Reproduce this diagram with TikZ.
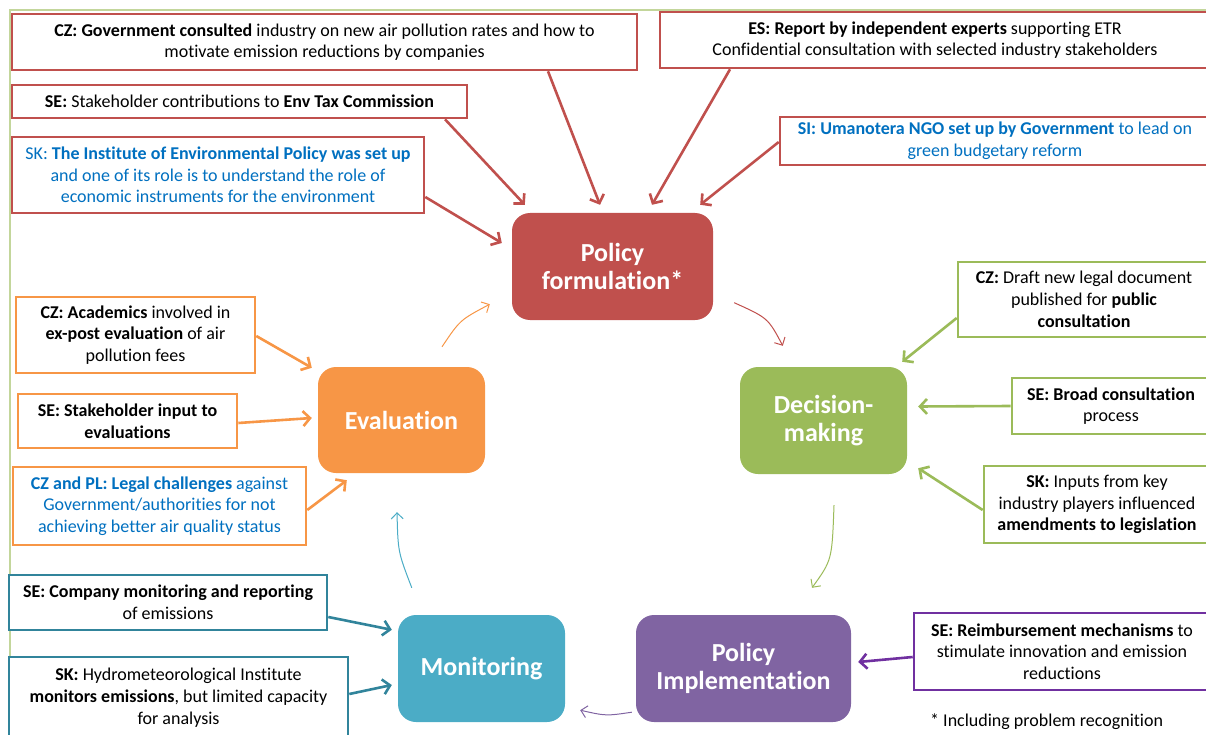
\documentclass[tikz,border=0pt]{standalone}
\usepackage{fontspec}
\setmainfont{Carlito}[Ligatures=CommonOff]
\usetikzlibrary{arrows.meta,calc}
\definecolor{polred}{HTML}{C0504D}
\definecolor{decgreen}{HTML}{9BBB59}
\definecolor{evorange}{HTML}{F79646}
\definecolor{monteal}{HTML}{4BACC6}
\definecolor{monedge}{HTML}{31849B}
\definecolor{implpurple}{HTML}{8064A2}
\definecolor{impledge}{HTML}{7030A0}
\definecolor{noteblue}{HTML}{0070C0}
\definecolor{framegreen}{HTML}{C3D69B}
\begin{document}
\begin{tikzpicture}[x=1pt,y=-1pt,
  note/.style={draw, line width=2.6pt, fill=white, align=center, inner sep=0pt,
    font=\fontsize{18}{21.7}\selectfont, text=black},
  stage/.style={rounded corners=18pt, align=center, inner sep=0pt, text=white,
    font=\fontsize{26}{28}\selectfont\bfseries},
  feed/.style={line width=2.6pt, -{Straight Barb[length=7pt,width=15pt]}},
  cyc/.style={line width=1pt, -{Straight Barb[length=6pt,width=12pt]}}]
\useasboundingbox (0,0) rectangle (1206,735);

% outer frame
\draw[framegreen, line width=1.6pt] (10,736) -- (10,10) -- (1210,10);

% policy cycle stages
\node[stage, fill=polred, minimum width=201pt, minimum height=107pt] (pf) at (612.5,266.5) {Policy\\formulation*};
\node[stage, fill=decgreen, minimum width=167pt, minimum height=107pt] (dm) at (823.5,420.5) {Decision-\\making};
\node[stage, fill=implpurple, minimum width=215pt, minimum height=107pt] (pi) at (743.5,668.5) {Policy\\Implementation};
\node[stage, fill=monteal, minimum width=167pt, minimum height=107pt] (mo) at (481.5,668.5) {Monitoring};
\node[stage, fill=evorange, minimum width=167pt, minimum height=106pt] (ev) at (401.5,420) {Evaluation};

% policy formulation inputs
\node[note, draw=polred, minimum width=625pt, minimum height=56pt] (rCZ) at (324.5,42)
  {\textbf{CZ: Government consulted} industry on new air pollution rates and how to\\motivate emission reductions by companies};
\node[note, draw=polred, minimum width=455pt, minimum height=33pt] (rSE) at (239.5,101.5)
  {\textbf{SE:} Stakeholder contributions to \textbf{Env Tax Commission}};
\node[note, draw=polred, text=noteblue, minimum width=412pt, minimum height=76pt] (rSK) at (218,175)
  {SK: \textbf{The Institute of Environmental Policy was set up}\\and one of its role is to understand the role of\\economic instruments for the environment};
\node[note, draw=polred, minimum width=550pt, minimum height=56pt] (rES) at (935,40)
  {\textbf{ES: Report by independent experts} supporting ETR\\Confidential consultation with selected industry stakeholders};
\node[note, draw=polred, text=noteblue, minimum width=430pt, minimum height=48pt] (rSI) at (995,141)
  {\textbf{SI: Umanotera NGO set up by Government} to lead on\\green budgetary reform};

% decision-making inputs
\node[note, draw=decgreen, minimum width=252pt, minimum height=75pt] (gCZ) at (1084,299.5)
  {\textbf{CZ:} Draft new legal document\\published for \textbf{public}\\\textbf{consultation}};
\node[note, draw=decgreen, minimum width=198pt, minimum height=56pt] (gSE) at (1111,406)
  {\textbf{SE: Broad consultation}\\process};
\node[note, draw=decgreen, minimum width=226pt, minimum height=77pt] (gSK) at (1097,504.5)
  {\textbf{SK:} Inputs from key\\industry players influenced\\\textbf{amendments to legislation}};

% evaluation inputs
\node[note, draw=evorange, minimum width=239pt, minimum height=76pt] (oCZ) at (135.5,335)
  {\textbf{CZ: Academics} involved in\\\textbf{ex-post evaluation} of air\\pollution fees};
\node[note, draw=evorange, minimum width=219pt, minimum height=54pt] (oSE) at (127.5,421)
  {\textbf{SE: Stakeholder input to}\\\textbf{evaluations}};
\node[note, draw=evorange, text=noteblue, minimum width=293pt, minimum height=78pt] (oCP) at (159.5,506)
  {\textbf{CZ and PL: Legal challenges} against\\Government/authorities for not\\achieving better air quality status};

% monitoring inputs
\node[note, draw=monedge, minimum width=318pt, minimum height=55pt] (tSE) at (168,602.5)
  {\textbf{SE: Company monitoring and reporting}\\of emissions};
\node[note, draw=monedge, minimum width=339pt, minimum height=81pt] (tSK) at (178.5,697.5)
  {\textbf{SK:} Hydrometeorological Institute\\\textbf{monitors emissions}, but limited capacity\\for analysis};

% implementation input
\node[note, draw=impledge, minimum width=296pt, minimum height=77pt] (pSE) at (1062,651.5)
  {\textbf{SE: Reimbursement mechanisms} to\\stimulate innovation and emission\\reductions};

% footnote
\node[anchor=west, inner sep=0pt, font=\fontsize{18}{20}\selectfont] (fn) at (930,722)
  {* Including problem recognition};

% arrows into policy formulation
\draw[feed, polred] (rCZ.south -| 548,0) -- ([xshift=-12.5pt,yshift=8pt]pf.north);
\draw[feed, polred] (rSE.south -| 445,0) -- ([xshift=13pt,yshift=8pt]pf.north west);
\draw[feed, polred] (rSK.east |- 0,197) -- ([xshift=-10pt,yshift=23.5pt]pf.west);
\draw[feed, polred] (rES.south -| 730,0) -- ([xshift=39.5pt,yshift=8pt]pf.north);
\draw[feed, polred] (rSI.west |- 0,142) -- ([xshift=-13pt,yshift=8pt]pf.north east);

% arrows into decision-making
\draw[feed, decgreen] (gCZ.west |- 0,318) -- ([xshift=-5pt,yshift=5pt]dm.north east);
\draw[feed, decgreen] (gSE.west) -- ([xshift=11pt,yshift=14pt]dm.east);
\draw[feed, decgreen] (gSK.west |- 0,510) -- ([xshift=11pt,yshift=6pt]dm.south east);

% arrows into evaluation
\draw[feed, evorange] (oCZ.east |- 0,336) -- ([xshift=-6pt,yshift=-1pt]ev.north west);
\draw[feed, evorange] (oSE.east |- 0,423) -- ([xshift=-6pt,yshift=2pt]ev.west);
\draw[feed, evorange] (oCP.east |- 0,510) -- ([xshift=29pt,yshift=-7pt]ev.south west);

% arrows into monitoring
\draw[feed, monedge] (tSE.east |- 0,617) -- ([xshift=-6pt,yshift=-15pt]mo.north west);
\draw[feed, monedge] (tSK.east |- 0,694) -- ([xshift=-6pt,yshift=-16.5pt]mo.west);

% arrow into implementation
\draw[feed, impledge] (pSE.west |- 0,657) -- ([xshift=7pt,yshift=6.5pt]pi.east);

% cycle arrows between stages
\draw[cyc, polred] ([xshift=21pt,yshift=17.5pt]pf.south east) .. controls (768,318) .. ([xshift=43pt,yshift=21pt]dm.north west);
\draw[cyc, decgreen] ([xshift=10.5pt,yshift=-31pt]dm.south) .. controls (832,560) .. ([xshift=68.5pt,yshift=27pt]pi.north);
\draw[cyc, implpurple] ([xshift=-4pt,yshift=10pt]pi.south west) .. controls (606,716) .. ([xshift=15pt,yshift=12pt]mo.south east);
\draw[cyc, monteal] ([xshift=14pt,yshift=27pt]mo.north west) .. controls (398,552) .. ([xshift=-4.5pt,yshift=-39pt]ev.south);
\draw[cyc, evorange] ([xshift=40.5pt,yshift=20pt]ev.north) .. controls (460,320) .. ([xshift=-22pt,yshift=16pt]pf.south west);
\end{tikzpicture}
\end{document}
